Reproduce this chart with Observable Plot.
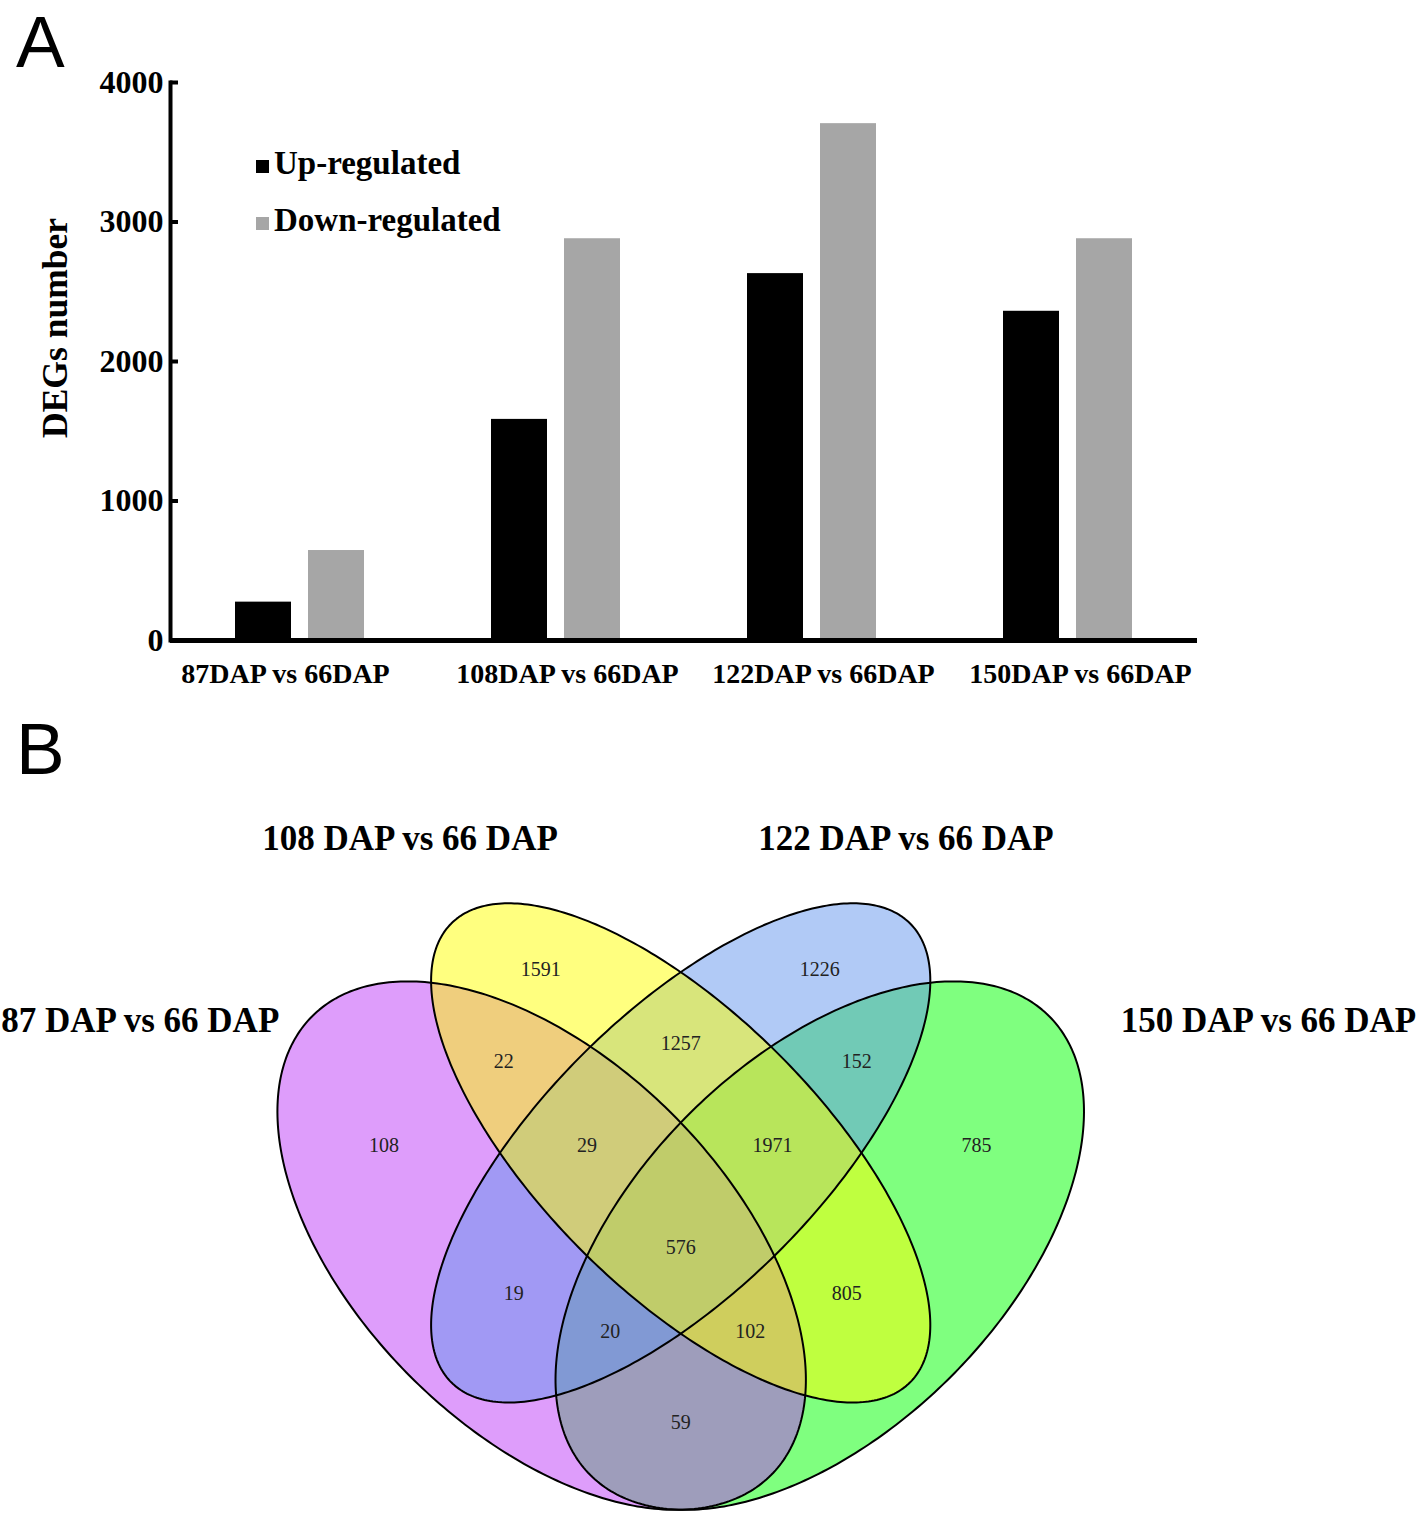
<!DOCTYPE html>
<html>
<head>
<meta charset="utf-8">
<script src="https://cdn.jsdelivr.net/npm/d3@7"></script>
<script src="https://cdn.jsdelivr.net/npm/@observablehq/plot@0.6"></script>
<style>
  html, body { margin: 0; padding: 0; background: #fff; }
  #page { position: relative; width: 1418px; height: 1513px; overflow: hidden; background: #fff;
          font-family: "Liberation Serif", "Times New Roman", serif; color: #000; }
  .abs { position: absolute; }
  .panel { font-family: "Liberation Sans", Arial, sans-serif; font-size: 73px; line-height: 1; }
  .legend { font-weight: bold; font-size: 33px; line-height: 1; white-space: nowrap; }
  .swatch { display: inline-block; width: 13px; height: 13px; margin-right: 5px; vertical-align: 1px; }
  .ytitle { font-weight: bold; font-size: 35.5px; white-space: nowrap; transform: translate(-50%, -50%) rotate(-90deg); }
</style>
</head>
<body>
<div id="page"></div>
<script>
// ---------------- DATA ----------------
const comparisons = ["87DAP vs 66DAP", "108DAP vs 66DAP", "122DAP vs 66DAP", "150DAP vs 66DAP"];
const regulations = ["Up-regulated", "Down-regulated"];
const upRegulated = [275, 1585, 2630, 2360];
const downRegulated = [645, 2880, 3705, 2880];
const yTicks = [0, 1000, 2000, 3000, 4000];

const vennSets = ["87 DAP vs 66 DAP", "108 DAP vs 66 DAP", "122 DAP vs 66 DAP", "150 DAP vs 66 DAP"];
// region membership codes (order of vennSets) and their counts
const vennRegions = ["1000", "0100", "0010", "0001", "1100", "0110", "0011", "1110", "0111", "1111", "1010", "0101", "1011", "1101", "1001"];
const vennCounts  = [108,    1591,   1226,   785,    22,     1257,   152,    29,     1971,   576,    19,     805,    20,     102,    59];

// ---------------- LAYOUT / STYLE (not data) ----------------
const serif = '"Liberation Serif", "Times New Roman", serif';
const W = 1418;
const barColors = ["#000000", "#a6a6a6"];
const vennFill = ["#bd3cf8", "#ffff00", "#6495ed", "#00ff00"];
// ellipse geometry in unit square (VennDiagram quad layout)
const ellipseGeom = [
  {cx: 0.35, cy: 0.47, a: 0.35, b: 0.20, angle: 135},
  {cx: 0.50, cy: 0.57, a: 0.35, b: 0.15, angle: 135},
  {cx: 0.50, cy: 0.57, a: 0.35, b: 0.15, angle: 45},
  {cx: 0.65, cy: 0.47, a: 0.35, b: 0.20, angle: 45}
];
const fillOrder = [3, 0, 2, 1];
const regionLabelPos = {
  "1000": [0.180, 0.578], "0100": [0.349, 0.768], "0010": [0.650, 0.768], "0001": [0.819, 0.578],
  "1100": [0.309, 0.669], "0110": [0.500, 0.688], "0011": [0.690, 0.669], "1110": [0.399, 0.578],
  "0111": [0.599, 0.578], "1111": [0.500, 0.468], "1010": [0.320, 0.418], "0101": [0.679, 0.418],
  "1011": [0.424, 0.377], "1101": [0.575, 0.377], "1001": [0.500, 0.279]
};
const setLabelPos = [[-0.083, 0.712], [0.208, 0.909], [0.743, 0.909], [1.134, 0.712]];
const xLabelShift = [-15, 11, 11, 12];

const page = document.getElementById("page");
function addDiv(cls, html, css) {
  const d = document.createElement("div");
  d.className = cls; d.innerHTML = html; Object.assign(d.style, css);
  page.appendChild(d); return d;
}

// ---------------- PANEL A ----------------
const barRows = comparisons.flatMap((c, i) => [
  {comparison: c, regulation: regulations[0], count: upRegulated[i]},
  {comparison: c, regulation: regulations[1], count: downRegulated[i]}
]);

const barPlot = Plot.plot({
  width: W, height: 700,
  marginLeft: 170, marginRight: 221, marginTop: 82, marginBottom: 60,
  style: {fontFamily: serif, fontWeight: "bold", fontSize: "32px", color: "#000", background: "transparent", overflow: "visible"},
  x: {type: "band", domain: comparisons, paddingInner: 0, paddingOuter: 0},
  y: {domain: [0, 4000]},
  color: {domain: regulations, range: barColors},
  marks: [
    Plot.barY(barRows.filter(d => d.regulation === regulations[0]),
      {x: "comparison", y: "count", fill: "regulation", insetLeft: 63, insetRight: 137}),
    Plot.barY(barRows.filter(d => d.regulation === regulations[1]),
      {x: "comparison", y: "count", fill: "regulation", insetLeft: 136, insetRight: 64}),
    Plot.ruleY([0], {stroke: "#000", strokeWidth: 5}),
    Plot.frame({anchor: "left", stroke: "#000", strokeWidth: 4}),
    Plot.axisY({ticks: yTicks, tickSize: 8, dx: 8, text: null, label: null, strokeWidth: 4, stroke: "#000"}),
    Plot.axisY({ticks: yTicks, tickSize: 0, tickPadding: 7, tickFormat: d => String(d), label: null, fontSize: 32, fill: "#000"}),
    ...comparisons.map((c, i) =>
      Plot.axisX({ticks: [c], tickSize: 0, tickPadding: 23, label: null, fontSize: 28, fill: "#000", dx: xLabelShift[i]}))
  ]
});
barPlot.style.position = "absolute";
barPlot.style.left = "0px";
barPlot.style.top = "0px";
page.appendChild(barPlot);

addDiv("abs panel", "A", {left: "16px", top: "5px"});
addDiv("abs ytitle", "DEGs number", {left: "55px", top: "328px"});
addDiv("abs legend", `<span class="swatch" style="background:${barColors[0]}"></span>${regulations[0]}`, {left: "256px", top: "147px"});
addDiv("abs legend", `<span class="swatch" style="background:${barColors[1]}"></span>${regulations[1]}`, {left: "256px", top: "204px"});

// ---------------- PANEL B ----------------
function ellipsePoints(g, setIndex, n = 360) {
  const t = g.angle * Math.PI / 180;
  const pts = [];
  for (let k = 0; k <= n; ++k) {
    const p = 2 * Math.PI * k / n;
    const u = g.a * Math.cos(p), v = g.b * Math.sin(p);
    pts.push({set: setIndex, x: g.cx + u * Math.cos(t) - v * Math.sin(t), y: g.cy + u * Math.sin(t) + v * Math.cos(t)});
  }
  return pts;
}
const ellipses = ellipseGeom.map((g, i) => ellipsePoints(g, i));
const regionRows = vennRegions.map((r, i) => ({region: r, count: vennCounts[i], x: regionLabelPos[r][0], y: regionLabelPos[r][1]}));
const setRows = vennSets.map((s, i) => ({name: s, x: setLabelPos[i][0], y: setLabelPos[i][1]}));

const unit = 927, vennLeft = 216.7, vennTop = 800, vennHeight = 713;
const yHigh = (1680.8 - vennTop) / unit, yLow = yHigh - vennHeight / unit;

const vennPlot = Plot.plot({
  width: W, height: vennHeight,
  marginLeft: vennLeft, marginRight: W - vennLeft - unit, marginTop: 0, marginBottom: 0,
  style: {fontFamily: serif, color: "#000", background: "transparent", overflow: "visible"},
  x: {domain: [0, 1], axis: null},
  y: {domain: [yLow, yHigh], axis: null},
  marks: [
    ...fillOrder.map(i => Plot.line(ellipses[i], {x: "x", y: "y", fill: vennFill[i], fillOpacity: 0.5, stroke: "none"})),
    ...ellipses.map(pts => Plot.line(pts, {x: "x", y: "y", stroke: "#000", strokeWidth: 2, fill: "none"})),
    Plot.text(regionRows, {x: "x", y: "y", text: d => String(d.count), fontSize: 20, fill: "#222"}),
    Plot.text(setRows, {x: "x", y: "y", text: "name", fontSize: 35, fontWeight: "bold", fill: "#000"})
  ]
});
vennPlot.style.position = "absolute";
vennPlot.style.left = "0px";
vennPlot.style.top = vennTop + "px";
page.appendChild(vennPlot);

addDiv("abs panel", "B", {left: "16px", top: "712px"});
</script>
</body>
</html>
